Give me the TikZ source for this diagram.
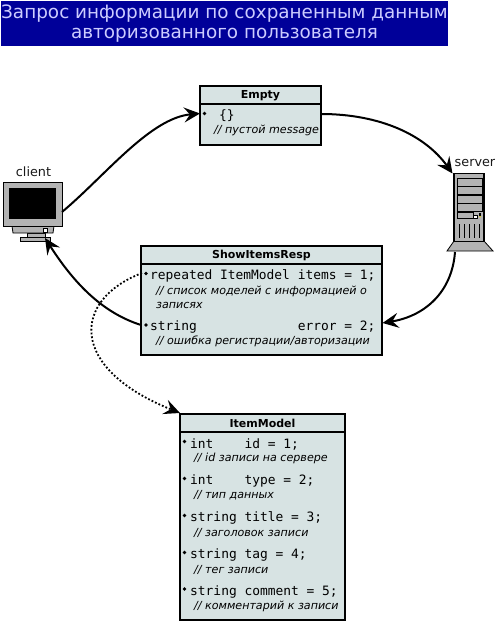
\documentclass[tikz,border=0pt]{standalone}
\usepackage{fontspec}
\setmainfont{DejaVu Sans}
\setmonofont{DejaVu Sans Mono}
\usetikzlibrary{arrows.meta}
\definecolor{titleblue}{HTML}{000099}
\definecolor{titletext}{HTML}{CCCCFF}
\definecolor{boxfill}{HTML}{D7E3E3}
\definecolor{devgray}{HTML}{B3B3B3}
\tikzset{
  classbox/.style={draw,line width=2pt,fill=boxfill,inner sep=0pt},
  classhead/.style={font=\fontsize{11}{12}\selectfont\bfseries,inner sep=0pt},
  fieldtext/.style={anchor=west,inner sep=0pt,font=\fontsize{12.9}{15}\selectfont\ttfamily},
  notetext/.style={anchor=west,inner sep=0pt,align=left,font=\fontsize{11.1}{14}\selectfont\itshape},
  dotmark/.style={circle,fill=black,inner sep=0pt,minimum size=3.6pt},
  devlabel/.style={inner sep=0pt,font=\fontsize{12.8}{14}\selectfont,text=black!90},
  titleline/.style={inner sep=0pt,text=titletext,font=\fontsize{18.4}{22}\selectfont},
  devpart/.style={draw=black,line width=.8pt,fill=devgray},
  flowline/.style={line width=2pt,-{Stealth[length=16pt,width=15pt,inset=6pt]}},
  refline/.style={flowline,line width=1.8pt,dash pattern=on 1.8pt off 2pt}
}
\begin{document}
\begin{tikzpicture}[x=1pt,y=-1pt]
\useasboundingbox (0,0) rectangle (497,621);

% title
\fill[titleblue] (1,1) rectangle (448,46);
\node[titleline] (titletop) at (224.5,13.5) {Запрос информации по сохраненным данным};
\node[titleline] (titlelow) at (224.5,35) {авторизованного пользователя};

% client
\node[devlabel] (clientlabel) at (33.5,171.5) {client};
\draw[devpart] (20,237) rectangle (50,241);
\draw[devpart] (27,233) rectangle (45,237);
\draw[devpart] (12,226) -- (54,226) -- (53,233) -- (13,233) -- cycle;
\node[devpart,minimum width=59pt,minimum height=44pt,inner sep=0pt] (client) at (32.5,204) {};
\fill[black] (9,188) rectangle (56,219);
\draw[line width=.8pt,fill=white] (43,228) rectangle (47,232);

% server
\node[devlabel] (serverlabel) at (475,163) {server};
\draw[devpart] (454,241) -- (484,241) -- (493,251) -- (447,251) -- cycle;
\node[devpart,line width=1.4pt,minimum width=30pt,minimum height=68pt,inner sep=0pt] (server) at (469,207.5) {};
\foreach \ytop in {178,186.5,195,203}
  \draw[line width=.5pt] (457,\ytop) rectangle (482,\ytop+8.2);
\draw[line width=.5pt] (457,212.5) rectangle (473,218);
\draw[line width=.5pt,fill=white] (473,215.5) rectangle (477,218);
\fill[yellow!80!black] (480,216.5) circle (1pt);
\fill[black] (479,213) rectangle (480.5,215.5);
\foreach \xvent in {459,464.3,469.7,474.7,479.3}
  \draw[line width=.5pt] (\xvent,224) -- (\xvent,238);

% Empty
\node[classbox,minimum width=121pt,minimum height=59pt] (empty) at (260.5,115.5) {};
\draw[line width=2pt] (200,103.5) -- (321,103.5);
\node[classhead] (emptyhead) at (260.5,95.5) {Empty};
\node[dotmark] (emptydot) at (204.5,113.5) {};
\node[fieldtext] (emptyfield) at (219,116) {\{\}};
\node[notetext] (emptynote) at (214,130.5) {// пустой message};

% ShowItemsResp
\node[classbox,minimum width=241pt,minimum height=109pt] (resp) at (261.5,300.5) {};
\draw[line width=2pt] (141,264) -- (382,264);
\node[classhead] (resphead) at (261.5,255.5) {ShowItemsResp};
\node[dotmark] (respdota) at (146,273.5) {};
\node[dotmark] (respdotb) at (146,325) {};
\node[fieldtext] (respitems) at (150,276) {repeated ItemModel items = 1;};
\node[notetext] (respnotea) at (156,297) {// список моделей с информацией о\\записях};
\node[fieldtext] (resperror) at (150,327) {string~~~~~~~~~~~~~error = 2;};
\node[notetext] (respnoteb) at (156,341) {// ошибка регистрации/авторизации};

% ItemModel
\node[classbox,minimum width=165pt,minimum height=206pt] (item) at (262.5,517) {};
\draw[line width=2pt] (180,432) -- (345,432);
\node[classhead] (itemhead) at (262.5,423.5) {ItemModel};
\foreach \yrow/\rowtext/\rownote in {
    444/int~~~~id = 1;/{// id записи на сервере},
    481/int~~~~type = 2;/{// тип данных},
    518/string title = 3;/{// заголовок записи},
    555/string tag = 4;/{// тег записи},
    591.5/string comment = 5;/{// комментарий к записи}}
{
  \node[dotmark] (itemdot\yrow) at (184.5,\yrow-2.5) {};
  \node[fieldtext] (itemfield\yrow) at (190,\yrow) {\rowtext};
  \node[notetext] (itemnote\yrow) at (194,\yrow+14.5) {\rownote};
}

% connectors
\coordinate (emptyin) at (200,113.5);
\coordinate (emptyout) at (321,114);
\coordinate (serverin) at (452.5,173.5);
\coordinate (serverout) at (455,252);
\coordinate (respin) at (382.5,323);
\coordinate (respout) at (141,325);
\coordinate (respref) at (142,273);
\coordinate (itemin) at (180,413);
\coordinate (clientout) at (62,212);
\coordinate (clientin) at (45,238);
\draw[flowline] (clientout) .. controls (105,176) and (150,118) .. (emptyin);
\draw[flowline] (emptyout) .. controls (380,114) and (425,135) .. (serverin);
\draw[flowline] (serverout) .. controls (452,292) and (425,316) .. (respin);
\draw[flowline] (respout) .. controls (100,312) and (72,280) .. (clientin);
\draw[refline] (respref) .. controls (72,300) and (68,368) .. (itemin);
\end{tikzpicture}
\end{document}
